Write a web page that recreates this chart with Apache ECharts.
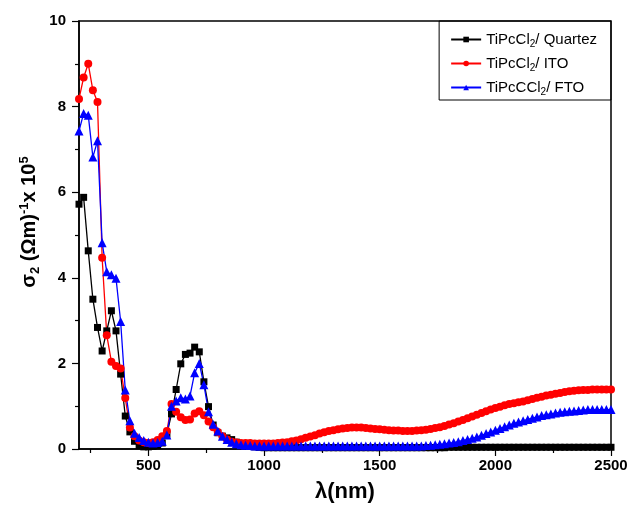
<!DOCTYPE html>
<html>
<head>
    <meta charset="utf-8"/>
    <title>sigma2 vs lambda</title>
    <script src="https://cdn.jsdelivr.net/npm/echarts@6/dist/echarts.min.js"></script>
    <style>
        html, body { margin: 0; padding: 0; background: #fff; }
        #chart { width: 632px; height: 513px; }
    </style>
</head>
<body>
<div id="chart"></div>
<script>
    // wavelength (nm)
    var lambda = [200, 220, 240, 260, 280, 300, 320, 340, 360, 380, 400, 420, 440, 460, 480, 500, 520, 540, 560, 580,
        600, 620, 640, 660, 680, 700, 720, 740, 760, 780, 800, 820, 840, 860, 880, 900, 920, 940, 960, 980,
        1000, 1020, 1040, 1060, 1080, 1100, 1120, 1140, 1160, 1180, 1200, 1220, 1240, 1260, 1280, 1300, 1320, 1340, 1360, 1380,
        1400, 1420, 1440, 1460, 1480, 1500, 1520, 1540, 1560, 1580, 1600, 1620, 1640, 1660, 1680, 1700, 1720, 1740, 1760, 1780,
        1800, 1820, 1840, 1860, 1880, 1900, 1920, 1940, 1960, 1980, 2000, 2020, 2040, 2060, 2080, 2100, 2120, 2140, 2160, 2180,
        2200, 2220, 2240, 2260, 2280, 2300, 2320, 2340, 2360, 2380, 2400, 2420, 2440, 2460, 2480, 2500];

    // sigma2 x 10^5 for each sample
    var quartez = [5.72, 5.88, 4.63, 3.50, 2.84, 2.29, 2.76, 3.23, 2.76, 1.75, 0.77, 0.40, 0.18, 0.08, 0.05, 0.05, 0.06, 0.08, 0.14, 0.35,
        0.82, 1.39, 1.99, 2.21, 2.24, 2.38, 2.27, 1.57, 0.99, 0.56, 0.38, 0.30, 0.26, 0.22, 0.16, 0.11, 0.08, 0.06, 0.05, 0.04,
        0.03, 0.03, 0.03, 0.03, 0.03, 0.03, 0.03, 0.03, 0.03, 0.03, 0.03, 0.03, 0.03, 0.03, 0.03, 0.03, 0.03, 0.03, 0.03, 0.03,
        0.03, 0.03, 0.03, 0.03, 0.03, 0.03, 0.03, 0.03, 0.03, 0.03, 0.03, 0.03, 0.03, 0.03, 0.03, 0.03, 0.03, 0.03, 0.03, 0.03,
        0.04, 0.04, 0.04, 0.04, 0.04, 0.04, 0.04, 0.04, 0.04, 0.04, 0.04, 0.04, 0.04, 0.04, 0.04, 0.04, 0.04, 0.04, 0.04, 0.04,
        0.04, 0.04, 0.04, 0.04, 0.04, 0.04, 0.04, 0.04, 0.04, 0.04, 0.04, 0.04, 0.04, 0.04, 0.04, 0.04];
    var ito = [8.18, 8.68, 9.00, 8.38, 8.11, 4.47, 2.66, 2.04, 1.94, 1.88, 1.19, 0.50, 0.30, 0.20, 0.16, 0.14, 0.16, 0.21, 0.30, 0.42,
        1.05, 0.87, 0.74, 0.68, 0.69, 0.83, 0.88, 0.79, 0.64, 0.51, 0.40, 0.30, 0.22, 0.17, 0.15, 0.14, 0.14, 0.14, 0.13, 0.13,
        0.13, 0.13, 0.13, 0.14, 0.15, 0.16, 0.18, 0.20, 0.23, 0.26, 0.29, 0.32, 0.36, 0.39, 0.42, 0.44, 0.46, 0.48, 0.49, 0.50,
        0.50, 0.50, 0.49, 0.48, 0.47, 0.46, 0.45, 0.44, 0.43, 0.43, 0.42, 0.42, 0.42, 0.43, 0.44, 0.45, 0.47, 0.49, 0.51, 0.54,
        0.57, 0.60, 0.64, 0.68, 0.72, 0.76, 0.80, 0.84, 0.88, 0.92, 0.96, 0.99, 1.02, 1.05, 1.07, 1.09, 1.11, 1.14, 1.17, 1.20,
        1.22, 1.25, 1.27, 1.29, 1.31, 1.33, 1.35, 1.36, 1.37, 1.38, 1.38, 1.39, 1.39, 1.39, 1.39, 1.39];
    var fto = [7.43, 7.84, 7.80, 6.82, 7.20, 4.82, 4.14, 4.07, 3.99, 2.98, 1.38, 0.66, 0.37, 0.27, 0.20, 0.16, 0.14, 0.15, 0.18, 0.33,
        1.00, 1.12, 1.20, 1.17, 1.24, 1.78, 2.00, 1.50, 0.87, 0.58, 0.42, 0.30, 0.22, 0.16, 0.12, 0.10, 0.09, 0.08, 0.07, 0.07,
        0.07, 0.07, 0.07, 0.07, 0.07, 0.07, 0.07, 0.07, 0.07, 0.07, 0.07, 0.07, 0.07, 0.07, 0.07, 0.07, 0.07, 0.07, 0.07, 0.07,
        0.07, 0.07, 0.07, 0.07, 0.07, 0.07, 0.07, 0.07, 0.07, 0.07, 0.07, 0.07, 0.07, 0.07, 0.07, 0.08, 0.09, 0.10, 0.11, 0.12,
        0.14, 0.15, 0.17, 0.20, 0.22, 0.25, 0.28, 0.32, 0.36, 0.40, 0.44, 0.48, 0.52, 0.56, 0.60, 0.63, 0.66, 0.69, 0.72, 0.75,
        0.78, 0.80, 0.82, 0.84, 0.86, 0.87, 0.88, 0.89, 0.90, 0.91, 0.92, 0.92, 0.92, 0.92, 0.92, 0.92];

    var xMajor = [500, 1000, 1500, 2000, 2500];
    var xMinor = [250, 750, 1250, 1750, 2250];

    function pairs(ys) {
        var out = [];
        for (var i = 0; i < lambda.length; i++) {
            out.push([lambda[i], ys[i]]);
        }
        return out;
    }

    var legendText = {
        'Quartez': '{a|TiPcCl}{s|2}{a|/ Quartez}',
        'ITO': '{a|TiPcCl}{s|2}{a|/ ITO}',
        'FTO': '{a|TiPcCCl}{s|2}{a|/ FTO}'
    };

    var font = 'Arial, "Liberation Sans", sans-serif';

    var chart = echarts.init(document.getElementById('chart'));
    var option = {
        animation: false,
        backgroundColor: '#fff',
        textStyle: { fontFamily: font },
        grid: {
            left: 79, right: 21, top: 21, bottom: 64,
            show: true, borderColor: '#000', borderWidth: 1.5
        },
        legend: {
            orient: 'vertical',
            right: 21, top: 21,
            padding: [9, 14, 3, 11],
            itemGap: 5,
            itemWidth: 30, itemHeight: 7,
            borderColor: '#000', borderWidth: 1,
            data: ['Quartez', 'ITO', 'FTO'],
            formatter: function (name) { return legendText[name]; },
            textStyle: {
                rich: {
                    a: { fontSize: 15, lineHeight: 18, color: '#000', fontFamily: font, padding: [0, 0, 0, 0] },
                    s: { fontSize: 10, lineHeight: 18, color: '#000', fontFamily: font, padding: [9, 0, 0, 0] }
                }
            }
        },
        xAxis: [{
            type: 'value', min: 200, max: 2500,
            name: 'λ(nm)', nameLocation: 'middle', nameGap: 32,
            nameTextStyle: { fontSize: 22, fontWeight: 'bold', color: '#000', fontFamily: font },
            axisLine: { show: true, lineStyle: { color: '#000', width: 1.5 } },
            axisTick: { show: true, length: 7, customValues: xMajor, lineStyle: { color: '#000', width: 1.2 } },
            axisLabel: {
                customValues: xMajor, margin: 9, fontSize: 15, fontWeight: 'bold', color: '#000',
                formatter: function (v) { return String(v); }
            },
            splitLine: { show: false }
        }, {
            type: 'value', min: 200, max: 2500, position: 'bottom',
            axisLine: { show: false },
            axisTick: { show: true, length: 4, customValues: xMinor, lineStyle: { color: '#000', width: 1.2 } },
            axisLabel: { show: false },
            splitLine: { show: false }
        }],
        yAxis: {
            type: 'value', min: 0, max: 10, interval: 2,
            axisLine: { show: true, lineStyle: { color: '#000', width: 1.5 } },
            axisTick: { show: true, length: 7, lineStyle: { color: '#000', width: 1.2 } },
            minorTick: { show: true, splitNumber: 2, length: 4, lineStyle: { color: '#000', width: 1.2 } },
            axisLabel: { margin: 13, fontSize: 15, fontWeight: 'bold', color: '#000' },
            splitLine: { show: false }
        },
        graphic: [{
            type: 'text',
            x: 29, y: 222,
            rotation: Math.PI / 2,
            style: {
                text: '{a|σ}{b|2}{a| (Ωm)}{c|-1}{a|x 10}{c|5}',
                align: 'center', verticalAlign: 'middle',
                rich: {
                    a: { fontSize: 20, fontWeight: 'bold', fill: '#000', fontFamily: font, lineHeight: 26 },
                    b: { fontSize: 13, fontWeight: 'bold', fill: '#000', fontFamily: font, lineHeight: 26, padding: [12, 0, 0, 0] },
                    c: { fontSize: 13, fontWeight: 'bold', fill: '#000', fontFamily: font, lineHeight: 26, padding: [0, 0, 10, 0] }
                }
            }
        }],
        series: [{
            name: 'Quartez', type: 'line', data: pairs(quartez),
            symbol: 'rect', symbolSize: 7,
            lineStyle: { color: '#000', width: 1.3 },
            itemStyle: { color: '#000' }
        }, {
            name: 'ITO', type: 'line', data: pairs(ito),
            symbol: 'circle', symbolSize: 8,
            lineStyle: { color: '#ff0000', width: 1.3 },
            itemStyle: { color: '#ff0000' }
        }, {
            name: 'FTO', type: 'line', data: pairs(fto),
            symbol: 'triangle', symbolSize: 9,
            lineStyle: { color: '#0000ff', width: 1.3 },
            itemStyle: { color: '#0000ff' }
        }]
    };
    chart.setOption(option);
</script>
</body>
</html>
